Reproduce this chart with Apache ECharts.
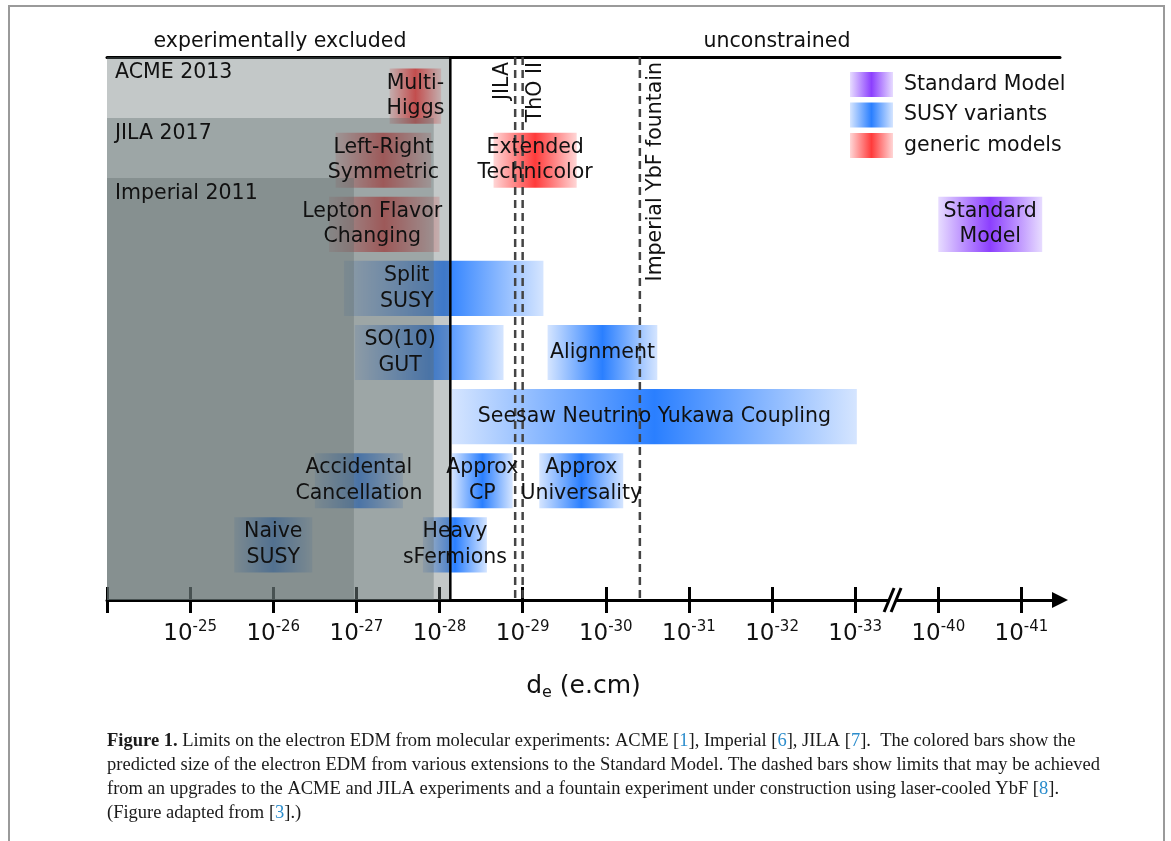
<!DOCTYPE html>
<html><head><meta charset="utf-8">
<script src="https://cdn.jsdelivr.net/npm/echarts@6/dist/echarts.min.js"></script>
<style>html,body{margin:0;padding:0;background:#fff}#c{width:1171px;height:841px}</style>
</head><body><div id="c"></div>
<script>
// ---------------- data ----------------
// Model predictions: range of log10(d_e / e.cm)
const barNames  = ['Multi-Higgs','Left-Right Symmetric','Lepton Flavor Changing','Extended Technicolor','Standard Model',
                   'Split SUSY','SO(10) GUT','Alignment','Seesaw Neutrino Yukawa Coupling',
                   'Accidental Cancellation','Approx CP','Approx Universality','Naive SUSY','Heavy sFermions'];
const barLabels = ['Multi-\nHiggs','Left-Right\nSymmetric','Lepton Flavor\nChanging','Extended\nTechnicolor','Standard\nModel',
                   'Split\nSUSY','SO(10)\nGUT','Alignment','Seesaw Neutrino Yukawa Coupling',
                   'Accidental\nCancellation','Approx\nCP','Approx\nUniversality','Naive\nSUSY','Heavy\nsFermions'];
const barUpper  = [-27.40,-26.75,-26.67,-28.65,-40.00,-26.85,-26.98,-29.30,-28.15,-26.50,-28.15,-29.20,-25.53,-27.80];
const barLower  = [-28.02,-27.90,-28.00,-29.65,-41.25,-29.25,-28.77,-30.62,-33.02,-27.56,-28.88,-30.21,-26.47,-28.57];
const barRow    = [0,1,2,1,2,3,4,4,5,6,6,6,7,7];
const barModel  = ['generic models','generic models','generic models','generic models','Standard Model',
                   'SUSY variants','SUSY variants','SUSY variants','SUSY variants',
                   'SUSY variants','SUSY variants','SUSY variants','SUSY variants','SUSY variants'];
const modelNames = ['Standard Model','SUSY variants','generic models'];

// Experimental limits (log10 d_e)
const expNames  = ['ACME 2013','JILA 2017','Imperial 2011'];
const expLimit  = [-28.13,-27.93,-26.97];
// Projected limits (dashed)
const futureNames = ['JILA','ThO II','Imperial YbF fountain'];
const futureLimit = [-28.91,-29.00,-30.41];
// Axis ticks (exponents of 10)
const tickExponents = [-24,-25,-26,-27,-28,-29,-30,-31,-32,-33,-40,-41];

// ---------------- layout / style ----------------
const FONT = 'DejaVu Sans';
const FS = 20.5;
const AX_MIN = 24, AX_MAX = 35.464;
const Y_MIN = -0.61, Y_MAX = 7.86, BAR_H = 0.86;
const regionTop = [-0.61, 0.341, 1.277];
const regionFill = 'rgba(95,110,110,0.375)';
const labelDx = {'Lepton Flavor Changing': -12, 'Split SUSY': -37, 'SO(10) GUT': -29};
const futureTextDx = [-12, 13, 16];
const modelColors = {
  'Standard Model': ['#e7dcff','#8c3ffe'],
  'SUSY variants':  ['#d5e5ff','#2a7fff'],
  'generic models': ['#ffd6d6','#ff3b3b']
};
const BREAK_POS = 33.45;

// axis with a break between 10^-33 and 10^-40
function pos(e){ return e >= -33.5 ? -e : -e - 6; }
function expOf(p){ return p <= 33.5 ? -p : -(p + 6); }

function grad(model){
  const c = modelColors[model];
  return new echarts.graphic.LinearGradient(0,0,1,0,[
    {offset:0,color:c[0]},{offset:0.5,color:c[1]},{offset:1,color:c[0]}]);
}

function rectOf(api){
  const p1 = api.coord([api.value(0), api.value(2)]);
  const p2 = api.coord([api.value(1), api.value(2)]);
  const h = api.size([0, BAR_H])[1];
  return {x:Math.min(p1[0],p2[0]), y:p1[1]-h/2, width:Math.abs(p2[0]-p1[0]), height:h, cx:(p1[0]+p2[0])/2, cy:p1[1]};
}

const allBarData = barNames.map((n,i)=>[pos(barUpper[i]), pos(barLower[i]), barRow[i], i]);

const modelSeries = modelNames.map(m => ({
  type:'custom', name:m, z:2,
  itemStyle:{color: grad(m)},
  encode:{x:[0,1], y:2},
  data: allBarData.filter(d => barModel[d[3]] === m),
  renderItem(params, api){
    const r = rectOf(api);
    return {type:'rect', shape:{x:r.x,y:r.y,width:r.width,height:r.height}, style:{fill: grad(m)}};
  }
}));

const regionSeries = {
  type:'custom', name:'limits', z:3, silent:true,
  encode:{x:[0,1], y:2},
  data: expNames.map((n,i)=>[AX_MIN, pos(expLimit[i]), regionTop[i], i]),
  renderItem(params, api){
    const i = api.value(3);
    const a = api.coord([api.value(0), api.value(2)]);
    const b = api.coord([api.value(1), Y_MAX]);
    const children = [
      {type:'rect', shape:{x:a[0], y:a[1], width:b[0]-a[0], height:b[1]-a[1]}, style:{fill:regionFill}},
      {type:'text', z2:50, x:a[0]+8, y:a[1]+16, style:{text:expNames[i], fontFamily:FONT, fontSize:FS, fill:'#111', align:'left', verticalAlign:'middle'}}
    ];
    if (pos(expLimit[i]) === Math.max(...expLimit.map(pos))) {
      const top = api.coord([api.value(1), Y_MIN]);
      children.push({type:'line', z2:40, shape:{x1:b[0], y1:top[1], x2:b[0], y2:b[1]}, style:{stroke:'#000', lineWidth:2.5}});
    }
    return {type:'group', children};
  }
};

const futureSeries = {
  type:'custom', name:'projected', z:4, silent:true,
  encode:{x:0, y:1},
  data: futureNames.map((n,i)=>[pos(futureLimit[i]), Y_MIN, i]),
  renderItem(params, api){
    const i = api.value(2);
    const t = api.coord([api.value(0), Y_MIN]);
    const b = api.coord([api.value(0), Y_MAX]);
    return {type:'group', children:[
      {type:'line', shape:{x1:t[0], y1:t[1], x2:b[0], y2:b[1]}, style:{stroke:'#444', lineWidth:2.5, lineDash:[8,5]}},
      {type:'text', x:t[0]+futureTextDx[i], y:t[1]+5, rotation:Math.PI/2,
       style:{text:futureNames[i], fontFamily:FONT, fontSize:FS, fill:'#111', align:'right', verticalAlign:'middle'}}
    ]};
  }
};

const labelSeries = {
  type:'custom', name:'labels', z:5, silent:true,
  encode:{x:[0,1], y:2},
  data: allBarData,
  renderItem(params, api){
    const i = api.value(3);
    const r = rectOf(api);
    return {type:'text', x:r.cx + (labelDx[barNames[i]]||0), y:r.cy,
      style:{text:barLabels[i], fontFamily:FONT, fontSize:FS, lineHeight:25.5, fill:'#111', align:'center', verticalAlign:'middle'}};
  }
};

const breakSeries = {
  type:'custom', name:'break', z:6, silent:true,
  encode:{x:0, y:1},
  data:[[BREAK_POS, Y_MAX]],
  renderItem(params, api){
    const c = api.coord([api.value(0), api.value(1)]);
    const s = 7;
    return {type:'group', children:[
      {type:'polygon', shape:{points:[[c[0]-s/2-5,c[1]+11],[c[0]+s/2-5,c[1]+11],[c[0]+s/2+5,c[1]-11],[c[0]-s/2+5,c[1]-11]]}, style:{fill:'#fff'}},
      {type:'line', shape:{x1:c[0]-s/2-5, y1:c[1]+12, x2:c[0]-s/2+5, y2:c[1]-12}, style:{stroke:'#000', lineWidth:3}},
      {type:'line', shape:{x1:c[0]+s/2-5, y1:c[1]+12, x2:c[0]+s/2+5, y2:c[1]-12}, style:{stroke:'#000', lineWidth:3}}
    ]};
  }
};

// ---------------- caption ----------------
const captionLines = [
  [['b','Figure 1.'],['r',' Limits on the electron EDM from molecular experiments: ACME ['],['c','1'],['r','], Imperial ['],['c','6'],['r','], JILA ['],['c','7'],['r','].  The colored bars show the']],
  [['r','predicted size of the electron EDM from various extensions to the Standard Model. The dashed bars show limits that may be achieved']],
  [['r','from an upgrades to the ACME and JILA experiments and a fountain experiment under construction using laser-cooled YbF ['],['c','8'],['r','].']],
  [['r','(Figure adapted from ['],['c','3'],['r','].)']]
];
const CAP_SIZE = 19, CAP_FONT = 'Liberation Serif', CAP_X = 107, CAP_Y0 = 741, CAP_DY = 24, CAP_REF_WIDTH = 993;
const mctx = document.createElement('canvas').getContext('2d');
function segWidth(seg){ mctx.font = (seg[0]==='b'?'bold ':'') + CAP_SIZE + 'px "' + CAP_FONT + '"'; return mctx.measureText(seg[1]).width; }
const capScale = CAP_REF_WIDTH / captionLines[1].reduce((s,g)=>s+segWidth(g),0);
const capRich = {
  b:{fontFamily:CAP_FONT, fontSize:CAP_SIZE, fontWeight:'bold', fill:'#1a1a1a'},
  r:{fontFamily:CAP_FONT, fontSize:CAP_SIZE, fill:'#1a1a1a'},
  c:{fontFamily:CAP_FONT, fontSize:CAP_SIZE, fill:'#2a8ccc'}
};
const captionGraphics = captionLines.map((segs,k)=>({
  type:'text', x:CAP_X, y:CAP_Y0 + k*CAP_DY, scaleX:capScale, originX:0, originY:0,
  style:{text: segs.map(s=>'{'+s[0]+'|'+s[1]+'}').join(''), rich:capRich, fontFamily:CAP_FONT, fontSize:CAP_SIZE, verticalAlign:'middle', align:'left'}
}));

// ---------------- chart ----------------
const chart = echarts.init(document.getElementById('c'), null, {renderer:'canvas'});
const tickPositions = tickExponents.map(pos);
const tickLabelRich = {
  b:{fontFamily:FONT, fontSize:23, lineHeight:28, color:'#111'},
  s:{fontFamily:FONT, fontSize:15, lineHeight:15, verticalAlign:'top', color:'#111'}
};
chart.setOption({
  animation:false,
  backgroundColor:'#fff',
  grid:{left:107, right:1171-1060, top:57, bottom:841-600},
  legend:{
    data:modelNames, orient:'vertical', left:850, top:72, padding:0, itemWidth:43, itemHeight:25, itemGap:5.5,
    icon:'rect', selectedMode:false,
    textStyle:{fontFamily:FONT, fontSize:FS, color:'#111', padding:[0,0,0,6]}
  },
  xAxis:[
    {type:'value', position:'bottom', min:AX_MIN, max:AX_MAX, interval:1,
     splitLine:{show:false},
     axisLine:{show:true, onZero:false, lineStyle:{color:'#000', width:3}, symbol:['none','triangle'], symbolSize:[16,16]},
     axisTick:{show:true, inside:false, length:13, lineStyle:{color:'#000', width:3}, customValues:tickPositions},
     axisLabel:{show:true, margin:20, customValues:tickPositions, rich:tickLabelRich,
       formatter:(v)=>{ if (Math.abs(v-AX_MIN)<1e-6) return ''; return '{b|10}{s|' + Math.round(expOf(v)) + '}'; }},
     name:'{d|d}{e|e}{d| (e.cm)}', nameLocation:'middle', nameGap:71,
     nameTextStyle:{rich:{
       d:{fontFamily:FONT, fontSize:25, lineHeight:30, color:'#111'},
       e:{fontFamily:FONT, fontSize:16, lineHeight:16, verticalAlign:'bottom', color:'#111'}}}
    },
    {type:'value', position:'bottom', min:AX_MIN, max:AX_MAX, interval:1,
     splitLine:{show:false}, axisLine:{show:false, onZero:false}, axisLabel:{show:false},
     axisTick:{show:true, inside:true, length:13, lineStyle:{color:'#000', width:3}, customValues:tickPositions}
    },
    {type:'value', position:'top', min:AX_MIN, max:AX_MAX, interval:1,
     splitLine:{show:false}, axisTick:{show:false}, axisLabel:{show:false},
     axisLine:{show:true, onZero:false, lineStyle:{color:'#000', width:3}}
    }
  ],
  yAxis:{type:'value', min:Y_MIN, max:Y_MAX, inverse:true, show:false, splitLine:{show:false}},
  graphic:[
    {type:'polyline', silent:true, shape:{points:[[9,841],[9,6],[1164,6],[1164,841]]}, style:{stroke:'#9a9a9a', lineWidth:2, fill:null}},
    {type:'text', x:280, y:42, style:{text:'experimentally excluded', fontFamily:FONT, fontSize:FS, fill:'#111', align:'center', verticalAlign:'middle'}},
    {type:'text', x:777, y:42, style:{text:'unconstrained', fontFamily:FONT, fontSize:FS, fill:'#111', align:'center', verticalAlign:'middle'}},
    ...captionGraphics
  ],
  series:[...modelSeries, regionSeries, futureSeries, labelSeries, breakSeries]
});
</script></body></html>
